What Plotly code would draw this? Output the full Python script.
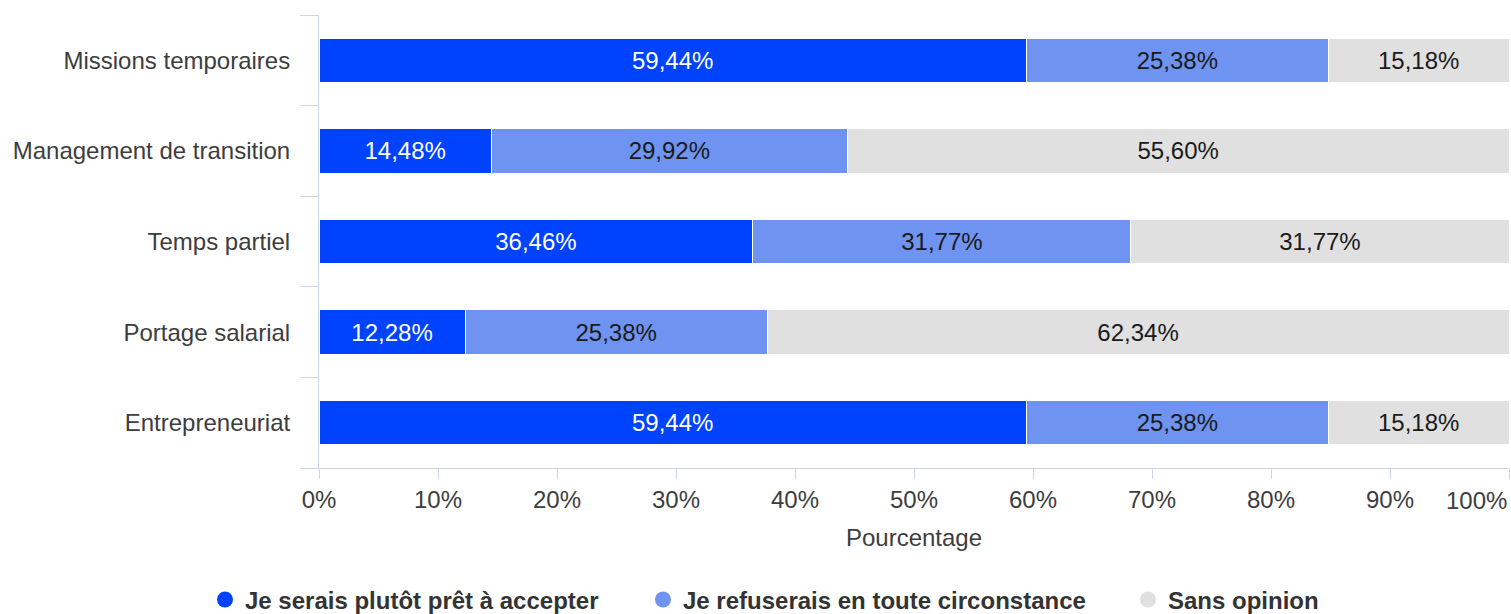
import plotly.graph_objects as go

categories = ["Missions temporaires", "Management de transition", "Temps partiel",
              "Portage salarial", "Entrepreneuriat"]
series_names = ["Je serais plutôt prêt à accepter", "Je refuserais en toute circonstance", "Sans opinion"]
accepter = [59.44, 14.48, 36.46, 12.28, 59.44]
refuserais = [25.38, 29.92, 31.77, 25.38, 25.38]
sans_opinion = [15.18, 55.60, 31.77, 62.34, 15.18]
tick_values = [0, 10, 20, 30, 40, 50, 60, 70, 80, 90, 100]
tick_labels = ["0%", "10%", "20%", "30%", "40%", "50%", "60%", "70%", "80%", "90%", ""]
last_tick_label = "100%"
axis_title = "Pourcentage"

colors = ["#0043ff", "#6f93f0", "#e0e0e0"]
text_colors = ["#ffffff", "#1a1a1a", "#1a1a1a"]
legend_ids = ["legend", "legend2", "legend3"]
legend_left_px = [205, 643, 1128]
FONT = "Liberation Sans, Arial, sans-serif"
FS = 24
W, H = 1511, 614

fig = go.Figure()
for name, vals, col, tcol, lid in zip(series_names, [accepter, refuserais, sans_opinion],
                                      colors, text_colors, legend_ids):
    fig.add_trace(go.Bar(
        y=categories, x=vals, orientation="h", name=name,
        marker=dict(color=col, line=dict(color="#ffffff", width=1)),
        texttemplate="%{x:.2f}%", textposition="inside", insidetextanchor="middle",
        textfont=dict(family=FONT, size=FS, color=tcol),
        constraintext="none", showlegend=False, hoverinfo="skip",
    ))
    # legend entry with circular marker
    fig.add_trace(go.Scatter(
        x=[None], y=[None], mode="markers", name=name, legend=lid,
        marker=dict(color=col, size=22, symbol="circle"), showlegend=True,
    ))

legend_common = dict(
    orientation="h", xref="container", yref="container",
    xanchor="left", y=0.023, yanchor="middle",
    font=dict(family=FONT, size=FS, color="#333333", weight="bold"),
    itemsizing="trace", bgcolor="rgba(0,0,0,0)",
)

fig.update_layout(
    width=W, height=H,
    barmode="stack", bargap=0.51,
    separators=",.",
    plot_bgcolor="#ffffff", paper_bgcolor="#ffffff",
    margin=dict(l=319, r=2, t=15, b=146),
    font=dict(family=FONT, size=FS, color="#3d3d3d"),
    xaxis=dict(
        range=[0, 100], tickvals=tick_values, ticktext=tick_labels,
        showgrid=False, zeroline=False,
        showline=True, linecolor="#ccd6eb", linewidth=1,
        ticks="outside", ticklen=10, tickcolor="#ccd6eb",
        tickfont=dict(family=FONT, size=FS, color="#3d3d3d"),
        title=dict(text=axis_title, font=dict(family=FONT, size=FS, color="#3d3d3d"), standoff=17),
        fixedrange=True,
    ),
    yaxis=dict(
        categoryorder="array", categoryarray=categories[::-1],
        showgrid=False, zeroline=False,
        showline=True, linecolor="#ccd6eb", linewidth=1,
        ticks="outside", tickson="boundaries", ticklen=18, tickcolor="#ccd6eb",
        ticklabelstandoff=23,
        tickfont=dict(family=FONT, size=FS, color="#3d3d3d"),
        fixedrange=True,
    ),
    annotations=[dict(
        text=last_tick_label, xref="paper", yref="paper", x=1, y=0,
        xanchor="right", yanchor="middle", yshift=-32, showarrow=False,
        font=dict(family=FONT, size=FS, color="#3d3d3d"),
    )],
)
for lid, lx in zip(legend_ids, legend_left_px):
    fig.update_layout({lid: dict(legend_common, x=lx / W)})

fig.write_html("out.html", config={"displayModeBar": False},
               post_script="document.body.style.margin='0';document.body.style.overflow='hidden';")
